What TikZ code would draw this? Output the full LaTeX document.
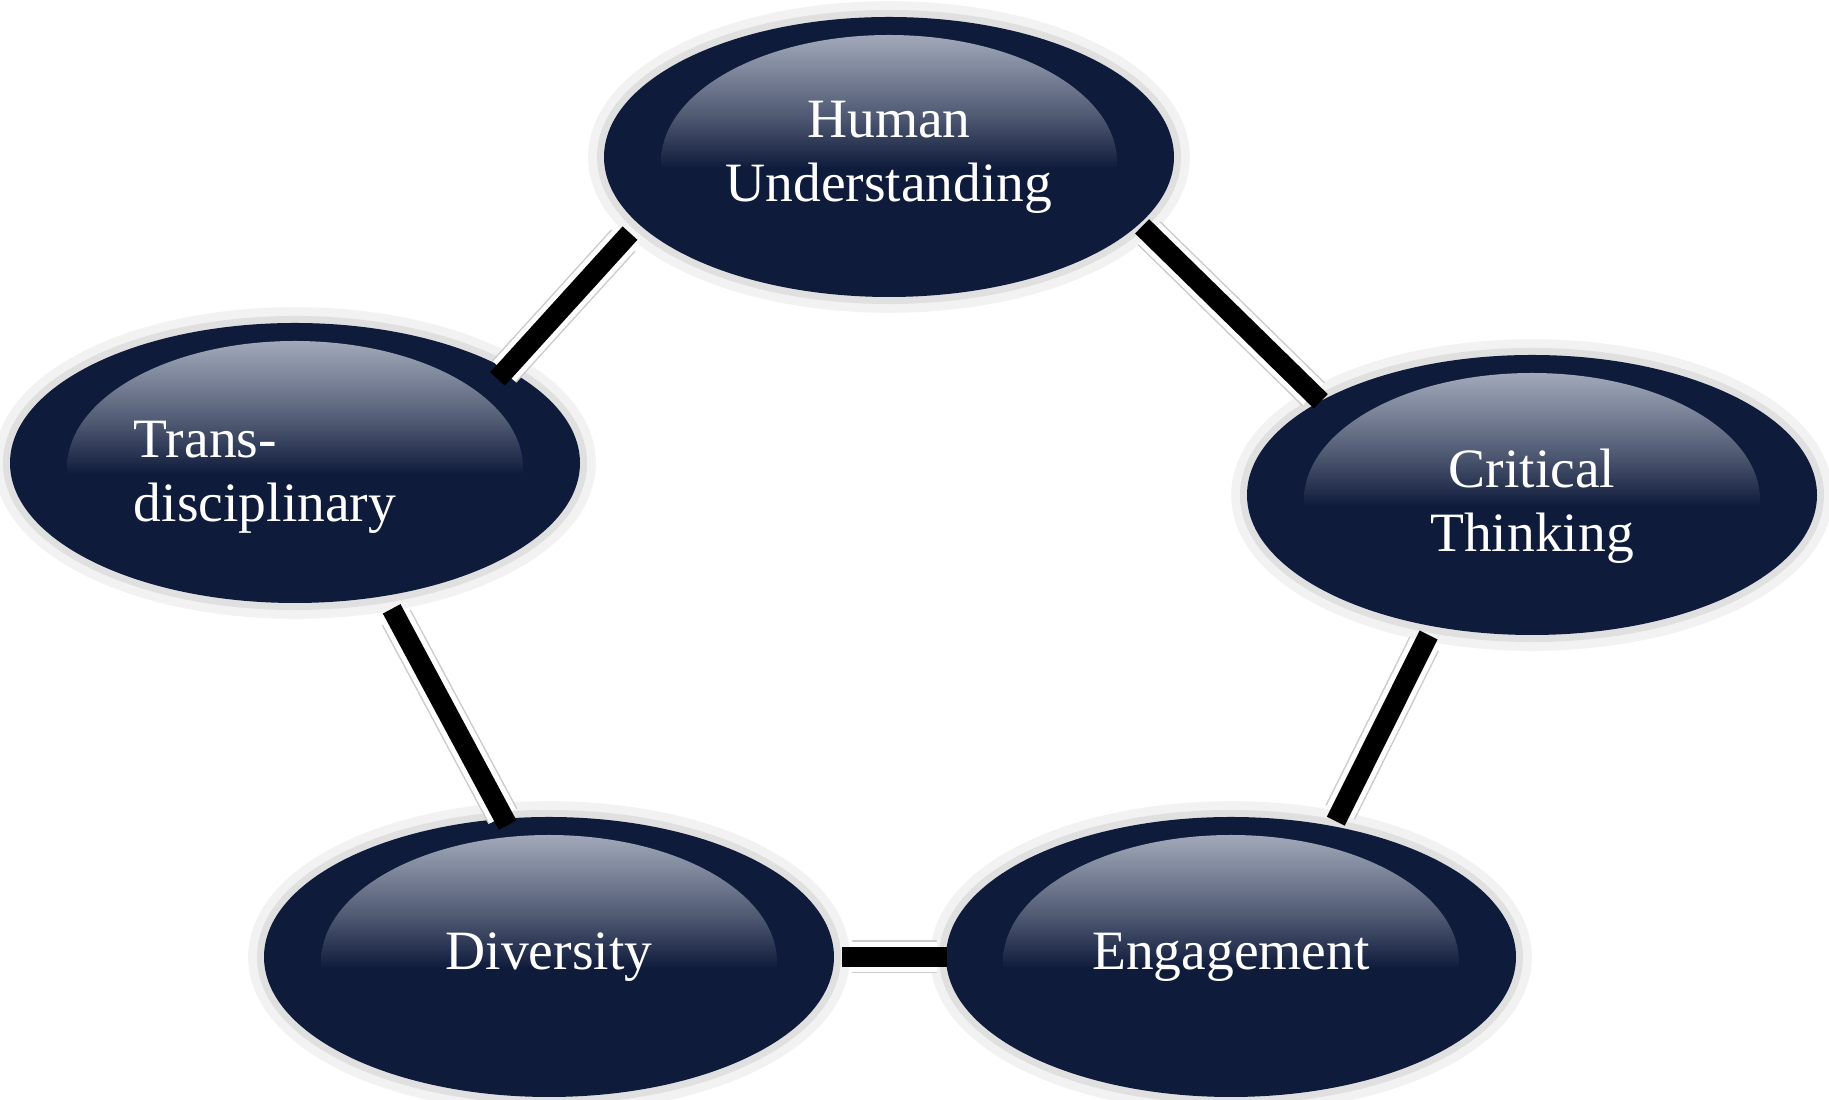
\documentclass[tikz,border=0pt]{standalone}
\usepackage{fontspec}
\setmainfont{Liberation Serif}
\usetikzlibrary{shapes.geometric}
\definecolor{navy}{HTML}{0F1B3B}
\definecolor{hilite}{RGB}{178,185,200}
\pgfdeclareverticalshading{glossy}{100bp}{color(0bp)=(navy); color(48bp)=(navy);
    color(57bp)=(hilite!38!navy); color(66bp)=(hilite!70!navy); color(75bp)=(hilite); color(100bp)=(hilite)}

\begin{document}
\begin{tikzpicture}[
    bubble/.style={ellipse, minimum width=5.7cm, minimum height=2.8cm, inner sep=0pt, fill=navy, text=white,
        font=\fontsize{15.8}{18.3}\selectfont, align=center,
        preaction={draw=black!5, line width=9pt},
        preaction={draw=black!12, line width=4pt},
        path picture={\shade[shading=glossy]
            ([yshift=-0.05cm]path picture bounding box.center) ellipse [x radius=2.28cm, y radius=1.27cm];}},
    link/.style={line width=0.2cm, line cap=rect, black,
        preaction={draw=black!20, line width=0.33cm},
        preaction={draw=white, line width=0.3cm}}
]
    \fill[white] (0,0) rectangle (18.29,11);
    \useasboundingbox (0,0) rectangle (18.29,11);

    \node[bubble] (hu) at (8.89,9.43) {Human\\Understanding};
    \node[bubble, align=left] (td) at (2.95,6.37) {\hspace*{-0.6cm}\rule{0pt}{0.65cm}Trans-\\\hspace*{-0.6cm}disciplinary};
    \node[bubble] (ct) at (15.32,6.05) {\rule{0pt}{0.61cm}Critical\\Thinking};
    \node[bubble] (dv) at (5.49,1.43) {Diversity};
    \node[bubble] (en) at (12.31,1.43) {Engagement};

    \draw[link, shorten <=0.22cm, shorten >=-0.04cm] (hu.195) -- (td.24);
    \draw[link, shorten <=0.13cm, shorten >=0.09cm] (hu.345) -- (ct.156);
    \draw[link, shorten <=0.19cm, shorten >=0.15cm] (ct.233) -- (en.52);
    \draw[link, shorten <=0.24cm, shorten >=0.02cm] (td.304) -- (dv.108);
    \draw[link, shorten <=0.17cm, shorten >=0.08cm] (dv.0) -- (en.180);
\end{tikzpicture}
\end{document}
